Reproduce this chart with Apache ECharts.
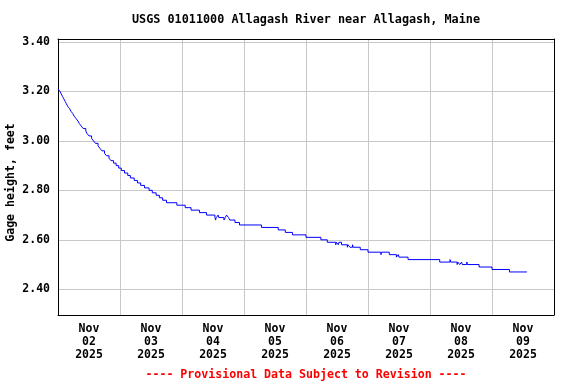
<!DOCTYPE html>
<html>
<head>
<meta charset="utf-8">
<script src="https://cdn.jsdelivr.net/npm/echarts@6/dist/echarts.min.js"></script>
<style>
html,body{margin:0;padding:0;background:#fff;}
#chart{width:576px;height:384px;}
</style>
</head>
<body>
<div id="chart"></div>
<script>
// Hours since Nov 02 2025 00:00 at which the gage height changes (15-min data, step changes)
var gageHours = [0,0.75,1.25,1.75,2.25,2.75,3.25,3.75,4.5,5.0,5.75,6.25,7.0,7.75,8.25,9.0,9.75,10.75,11.25,12.0,
  13.0,13.75,14.5,15.5,16.25,17.0,18.0,18.75,19.75,20.5,21.5,22.5,23.5,24.5,25.75,27.0,28.0,29.5,30.75,32.0,
  33.5,35.25,36.5,38.0,39.25,40.5,42.0,46.0,49.25,51.5,54.75,57.5,60.75,61.0,61.25,62.0,62.25,64.25,64.75,65.25,
  66.0,66.5,68.5,70.25,78.75,85.25,88.0,90.75,96.0,101.75,104.25,107.5,107.75,108.5,108.75,109.75,112.0,112.25,113.0,114.0,
  114.25,117.0,120.0,125.0,125.25,128.25,131.0,131.75,132.0,135.5,147.75,151.75,152.0,154.5,154.75,155.5,156.25,156.5,158.25,158.5,
  163.0,168.0,174.75,181.5];
var gageFeet = [3.21,3.20,3.19,3.18,3.17,3.16,3.15,3.14,3.13,3.12,3.11,3.10,3.09,3.08,3.07,3.06,3.05,3.04,3.03,3.02,
  3.01,3.00,2.99,2.98,2.97,2.96,2.95,2.94,2.93,2.92,2.91,2.90,2.89,2.88,2.87,2.86,2.85,2.84,2.83,2.82,
  2.81,2.80,2.79,2.78,2.77,2.76,2.75,2.74,2.73,2.72,2.71,2.70,2.69,2.68,2.69,2.70,2.69,2.68,2.69,2.70,
  2.69,2.68,2.67,2.66,2.65,2.64,2.63,2.62,2.61,2.60,2.59,2.58,2.59,2.58,2.59,2.58,2.57,2.58,2.57,2.58,
  2.57,2.56,2.55,2.54,2.55,2.54,2.53,2.54,2.53,2.52,2.51,2.52,2.51,2.50,2.51,2.50,2.51,2.50,2.51,2.50,
  2.49,2.48,2.47,2.47];
// X tick label positions (noon of each day) and texts
var dayLabelHours = [12,36,60,84,108,132,156,180];
var dayLabels = ['Nov\n02\n2025','Nov\n03\n2025','Nov\n04\n2025','Nov\n05\n2025','Nov\n06\n2025','Nov\n07\n2025','Nov\n08\n2025','Nov\n09\n2025'];
var yTicks = [2.4,2.6,2.8,3.0,3.2,3.4];
var titleText = 'USGS 01011000 Allagash River near Allagash, Maine';
var yAxisTitle = 'Gage height, feet';
var footerText = '---- Provisional Data Subject to Revision ----';

var FONT = 'DejaVu Sans Mono';
var data = gageHours.map(function(h, i){ return [h, gageFeet[i]]; });

var chart = echarts.init(document.getElementById('chart'), null, {renderer:'canvas'});
chart.setOption({
  animation: false,
  backgroundColor: '#fff',
  grid: {left: 58, top: 39, width: 496, height: 276, show: false},
  xAxis: [{
    type: 'value', min: 0, max: 192, interval: 24, position: 'bottom',
    axisLine: {show: true, onZero: false, lineStyle: {color: '#000', width: 1}},
    axisTick: {show: false},
    splitLine: {show: true, lineStyle: {color: '#c8c8c8', width: 1}},
    axisLabel: {
      customValues: dayLabelHours, margin: 8, color: '#000',
      fontFamily: FONT, fontWeight: 'bold', fontSize: 11.5, lineHeight: 13,
      formatter: function(v){ var i = dayLabelHours.indexOf(v); return i >= 0 ? dayLabels[i] : ''; }
    }
  }, {
    type: 'value', min: 0, max: 192, position: 'top',
    axisLine: {show: true, onZero: false, lineStyle: {color: '#000', width: 1}},
    axisTick: {show: false}, axisLabel: {show: false}, splitLine: {show: false}
  }],
  yAxis: [{
    type: 'value', min: 2.296, max: 3.412, position: 'left',
    axisLine: {show: true, onZero: false, lineStyle: {color: '#000', width: 1}},
    axisTick: {show: false, customValues: yTicks},
    splitLine: {show: true, lineStyle: {color: '#c8c8c8', width: 1}},
    axisLabel: {
      customValues: yTicks, margin: 8, color: '#000',
      fontFamily: FONT, fontWeight: 'bold', fontSize: 11.5,
      formatter: function(v){ return v.toFixed(2); }
    }
  }, {
    type: 'value', min: 2.296, max: 3.412, position: 'right',
    axisLine: {show: true, onZero: false, lineStyle: {color: '#000', width: 1}},
    axisTick: {show: false}, axisLabel: {show: false}, splitLine: {show: false}
  }],
  series: [{
    type: 'line', xAxisIndex: 0, yAxisIndex: 0,
    data: data, step: 'end', showSymbol: false, symbol: 'none',
    lineStyle: {color: '#0000ff', width: 1}, z: 5
  }],
  graphic: [
    {type: 'text', x: 306, y: 20, silent: true,
     style: {text: titleText, fill: '#000', font: 'bold 11.8px "DejaVu Sans Mono"', textAlign: 'center', textVerticalAlign: 'middle'}},
    {type: 'text', x: 11, y: 182.5, rotation: Math.PI/2, silent: true,
     style: {text: yAxisTitle, fill: '#000', font: 'bold 11.6px "DejaVu Sans Mono"', textAlign: 'center', textVerticalAlign: 'middle'}},
    {type: 'text', x: 306, y: 375, silent: true,
     style: {text: footerText, fill: '#ff0000', font: 'bold 11.6px "DejaVu Sans Mono"', textAlign: 'center', textVerticalAlign: 'middle'}}
  ]
});
</script>
</body>
</html>
